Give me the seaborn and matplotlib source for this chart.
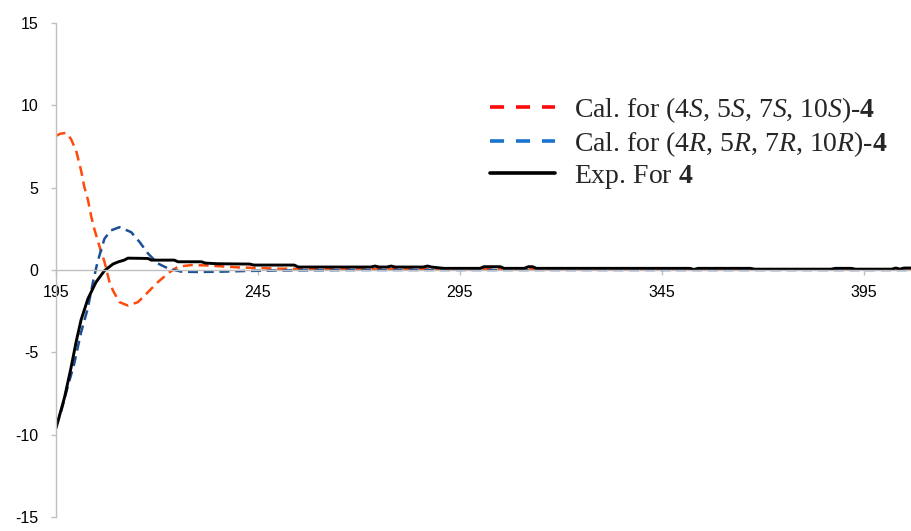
import matplotlib
matplotlib.use("Agg")
import matplotlib.pyplot as plt
from matplotlib.lines import Line2D
import seaborn as sns

# wavelength (nm) and CD values
x_s = [195, 196, 197.5, 198.7, 200, 201.2, 202, 202.9, 203.7, 204.5, 205.7,
       207, 208.2, 209.1, 210.7, 212.8, 215.3, 217.8, 220.2, 223.1, 225.2,
       228.5, 232, 236, 240, 245, 250, 260, 280, 300, 330, 360, 390, 407]
cal_s = [8.14, 8.27, 8.33, 7.96, 7.24, 6.05, 5.06, 4.27, 3.27, 2.48, 1.49,
         0.5, -0.69, -1.24, -1.95, -2.16, -1.95, -1.34, -0.74, -0.14, 0.2,
         0.3, 0.28, 0.22, 0.16, 0.12, 0.08, 0.06, 0.05, 0.05, 0.04, 0.04,
         0.03, 0.03]

x_r = [195, 196.2, 197.9, 199.5, 201.2, 202.9, 204.1, 205.3, 207, 208.6,
       210.7, 213.6, 215.7, 217.8, 220.2, 222.7, 226, 230, 236, 242, 250, 270,
       300, 350, 407]
cal_r = [-9.5, -8.67, -7.1, -5.7, -3.8, -2.3, -0.8, 0.5, 1.9, 2.4, 2.6, 2.3,
         1.7, 1.0, 0.4, 0.1, -0.1, -0.12, -0.1, -0.06, -0.03, 0.0, 0.0, 0.0,
         0.0]

x_exp = [195, 197.1, 198.7, 200, 201.2, 202.9, 204.9, 207, 209.1, 210.5,
         211.9, 212.8, 217.8, 218.6, 224.3, 225.2, 231, 232, 235, 243, 244,
         254, 255, 273, 274, 275, 277, 278, 279, 286, 287, 288, 291, 300, 301,
         305, 306, 311, 312, 313, 314, 352, 353, 354, 367, 368, 387, 388, 392,
         393, 402, 403, 404, 405, 407]
exp = [-9.6, -7.75, -5.96, -4.35, -3.04, -1.75, -0.74, -0.04, 0.36, 0.5, 0.6,
       0.72, 0.7, 0.6, 0.6, 0.5, 0.5, 0.42, 0.38, 0.36, 0.3, 0.3, 0.18, 0.18,
       0.24, 0.18, 0.18, 0.24, 0.18, 0.18, 0.24, 0.18, 0.1, 0.1, 0.2, 0.2,
       0.1, 0.1, 0.2, 0.2, 0.1, 0.1, 0.03, 0.1, 0.1, 0.05, 0.05, 0.1, 0.1,
       0.05, 0.05, 0.12, 0.05, 0.12, 0.12]

labels = [r"Cal. for (4$\mathit{S}$, 5$\mathit{S}$, 7$\mathit{S}$, 10$\mathit{S}$)-$\mathbf{4}$",
          r"Cal. for (4$\mathit{R}$, 5$\mathit{R}$, 7$\mathit{R}$, 10$\mathit{R}$)-$\mathbf{4}$",
          r"Exp. For $\mathbf{4}$"]
xticks = [195, 245, 295, 345, 395]
yticks = [-15, -10, -5, 0, 5, 10, 15]

sns.set_theme(style="white")
plt.rcParams["font.family"] = ["Liberation Sans", "DejaVu Sans"]
plt.rcParams["mathtext.fontset"] = "custom"
plt.rcParams["mathtext.rm"] = "Liberation Serif"
plt.rcParams["mathtext.it"] = "Liberation Serif:italic"
plt.rcParams["mathtext.bf"] = "Liberation Serif:bold"

fig = plt.figure(figsize=(9.12, 5.31), dpi=100)
ax = fig.add_axes([56 / 912, 1 - 517 / 531, 1 - 56 / 912, (517 - 23) / 531])

red_plot, blue_plot = "#FF4A0A", "#1C4F94"
sns.lineplot(x=x_s, y=cal_s, ax=ax, color=red_plot, linewidth=1.8,
             linestyle=(0, (4.0, 2.3)))
sns.lineplot(x=x_r, y=cal_r, ax=ax, color=blue_plot, linewidth=1.8,
             linestyle=(0, (4.0, 2.3)))
sns.lineplot(x=x_exp, y=exp, ax=ax, color="black", linewidth=2.1)

ax.set_xlim(195, 407)
ax.set_ylim(-15, 15)
ax.set_xticks(xticks)
ax.set_yticks(yticks)
ax.set_xticklabels([str(t) for t in xticks])
ax.set_yticklabels([str(t) for t in yticks])

grey = "#BFBFBF"
for side in ["top", "right"]:
    ax.spines[side].set_visible(False)
ax.spines["bottom"].set_position(("data", 0))
ax.spines["left"].set_color(grey)
ax.spines["bottom"].set_color(grey)
ax.spines["left"].set_linewidth(1.0)
ax.spines["bottom"].set_linewidth(1.0)
ax.tick_params(axis="both", which="major", direction="out", length=3.6,
               width=1.0, color=grey, labelsize=11.5, labelcolor="black")
ax.tick_params(axis="y", pad=9, left=True)
ax.tick_params(axis="x", pad=7, bottom=True)
ax.set_xlabel("")
ax.set_ylabel("")

handles = [
    Line2D([], [], color="#FF0A0A", linewidth=2.6, linestyle=(0, (3.9, 3.3))),
    Line2D([], [], color="#1A73CC", linewidth=2.6, linestyle=(0, (3.9, 3.3))),
    Line2D([], [], color="black", linewidth=2.6),
]
leg = fig.legend(handles, labels, loc="center left",
                 bbox_to_anchor=(490 / 912, 1 - 143 / 531),
                 frameon=False, prop={"family": ["Liberation Serif"], "size": 20},
                 handlelength=2.34, handletextpad=0.68, labelspacing=0.15,
                 borderpad=0, borderaxespad=0)

fig.savefig("out.png", dpi=100)
